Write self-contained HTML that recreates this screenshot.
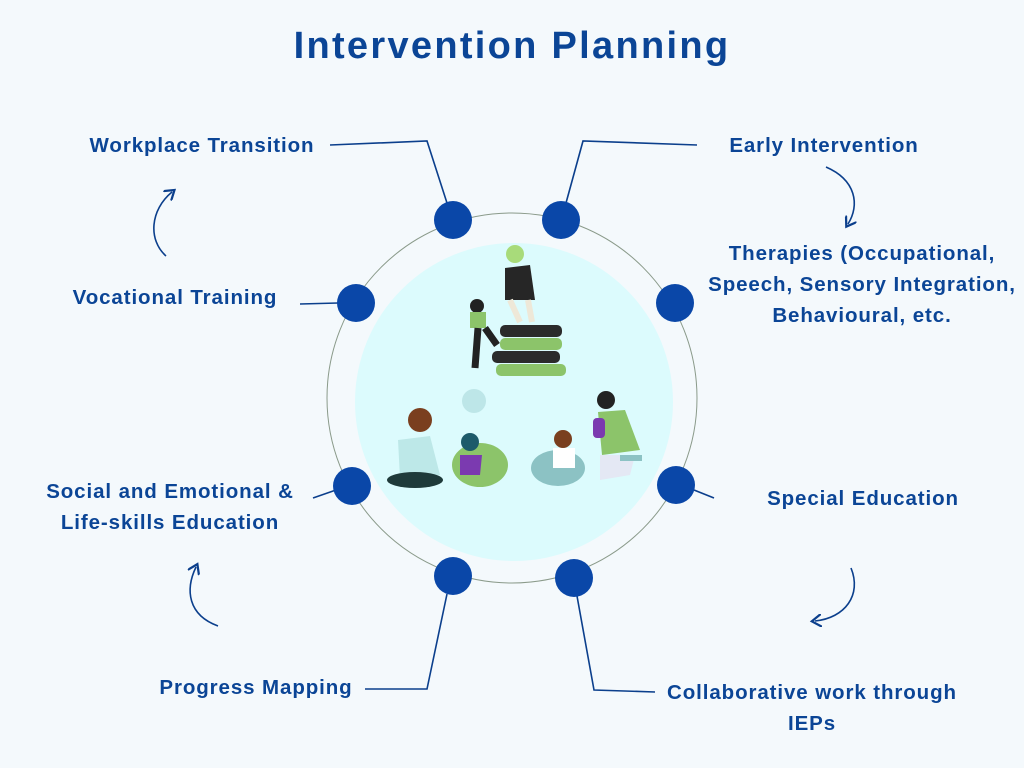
<!DOCTYPE html>
<html><head><meta charset="utf-8"><style>
body{margin:0;width:1024px;height:768px;background:#f4f9fc;overflow:hidden;font-family:"Liberation Sans",sans-serif;}
svg{position:absolute;left:0;top:0}
.t{font-family:"Liberation Sans",sans-serif;font-weight:bold;fill:#0b4596;font-size:20.5px;letter-spacing:0.9px}
</style></head><body>
<svg width="1024" height="768" viewBox="0 0 1024 768">
<defs><marker id="ah" markerWidth="8" markerHeight="8" refX="4" refY="4" orient="auto"><path d="M0,0 L6,4 L0,8" fill="none" stroke="#0b3f8c" stroke-width="1.4"/></marker></defs>
<text x="512" y="58" text-anchor="middle" style="font-family:'Liberation Sans',sans-serif;font-weight:bold;font-size:38px;letter-spacing:2.3px;fill:#0b4596">Intervention Planning</text>
<circle cx="512" cy="398" r="185" fill="none" stroke="#8a9a8a" stroke-width="1"/>
<circle cx="514" cy="402" r="159" fill="#dcfbfd"/>
<g>
<rect x="500" y="325" width="62" height="12" rx="5" fill="#2b2b2b"/>
<rect x="500" y="338" width="62" height="12" rx="5" fill="#8cc46a"/>
<rect x="492" y="351" width="68" height="12" rx="5" fill="#2b2b2b"/>
<rect x="496" y="364" width="70" height="12" rx="5" fill="#8cc46a"/>
<circle cx="515" cy="254" r="9" fill="#a8db7a"/>
<path d="M505 268 L530 265 L535 300 L505 300 Z" fill="#262626"/>
<path d="M510 300 L520 322 M528 300 L532 322" stroke="#eee8d8" stroke-width="6"/>
<circle cx="477" cy="306" r="7" fill="#222"/>
<rect x="470" y="312" width="16" height="16" fill="#8cc46a"/>
<path d="M478 328 L475 368 M485 328 L497 345" stroke="#222" stroke-width="7"/>
<circle cx="474" cy="401" r="12" fill="#bde6e8"/>
<circle cx="420" cy="420" r="12" fill="#7a3f1f"/>
<path d="M398 440 L430 436 L440 475 L400 478 Z" fill="#bde8e8"/>
<ellipse cx="415" cy="480" rx="28" ry="8" fill="#1f3a3a"/>
<ellipse cx="480" cy="465" rx="28" ry="22" fill="#8cc46a"/>
<circle cx="470" cy="442" r="9" fill="#1d5a6a"/>
<path d="M460 455 L482 455 L480 475 L460 475Z" fill="#7b3ab0"/>
<ellipse cx="558" cy="468" rx="27" ry="18" fill="#8cc2c4"/>
<circle cx="563" cy="439" r="9" fill="#7a3f1f"/>
<rect x="553" y="448" width="22" height="20" fill="#fff"/>
<circle cx="606" cy="400" r="9" fill="#222"/>
<path d="M598 412 L625 410 L640 450 L602 455Z" fill="#8cc46a"/>
<path d="M600 455 L635 455 L630 475 L600 480Z" fill="#e4e8f4"/>
<rect x="593" y="418" width="12" height="20" rx="4" fill="#7b3ab0"/>
<rect x="620" y="455" width="22" height="6" fill="#8cc2c4"/>
</g>
<g fill="none" stroke="#0b3f8c" stroke-width="1.6">
<path d="M330 145 L427 141 L447 203"/>
<path d="M697 145 L583 141 L566 203"/>
<path d="M300 304 L338 303"/>
<path d="M313 498 L336 490"/>
<path d="M694 490 L714 498"/>
<path d="M365 689 L427 689 L447 594"/>
<path d="M655 692 L594 690 L577 596"/>
<path d="M166 256 C148 240 150 210 172 192" marker-end="url(#ah)"/>
<path d="M826 167 C856 180 860 205 848 224" marker-end="url(#ah)"/>
<path d="M218 626 C188 615 185 590 196 567" marker-end="url(#ah)"/>
<path d="M851 568 C862 595 845 618 815 621" marker-end="url(#ah)"/>
</g>
<g fill="#0a47a8">
<circle cx="453" cy="220" r="19"/><circle cx="561" cy="220" r="19"/>
<circle cx="356" cy="303" r="19"/><circle cx="675" cy="303" r="19"/>
<circle cx="352" cy="486" r="19"/><circle cx="676" cy="485" r="19"/>
<circle cx="453" cy="576" r="19"/><circle cx="574" cy="578" r="19"/>
</g>
<text class="t" x="202" y="152" text-anchor="middle">Workplace Transition</text>
<text class="t" x="824" y="152" text-anchor="middle">Early Intervention</text>
<text class="t" x="862" y="260" text-anchor="middle">Therapies (Occupational,</text>
<text class="t" x="862" y="291" text-anchor="middle">Speech, Sensory Integration,</text>
<text class="t" x="862" y="322" text-anchor="middle">Behavioural, etc.</text>
<text class="t" x="175" y="304" text-anchor="middle">Vocational Training</text>
<text class="t" x="170" y="498" text-anchor="middle">Social and Emotional &amp;</text>
<text class="t" x="170" y="529" text-anchor="middle">Life-skills Education</text>
<text class="t" x="863" y="505" text-anchor="middle">Special Education</text>
<text class="t" x="256" y="694" text-anchor="middle">Progress Mapping</text>
<text class="t" x="812" y="699" text-anchor="middle">Collaborative work through</text>
<text class="t" x="812" y="730" text-anchor="middle">IEPs</text>
</svg>
</body></html>
